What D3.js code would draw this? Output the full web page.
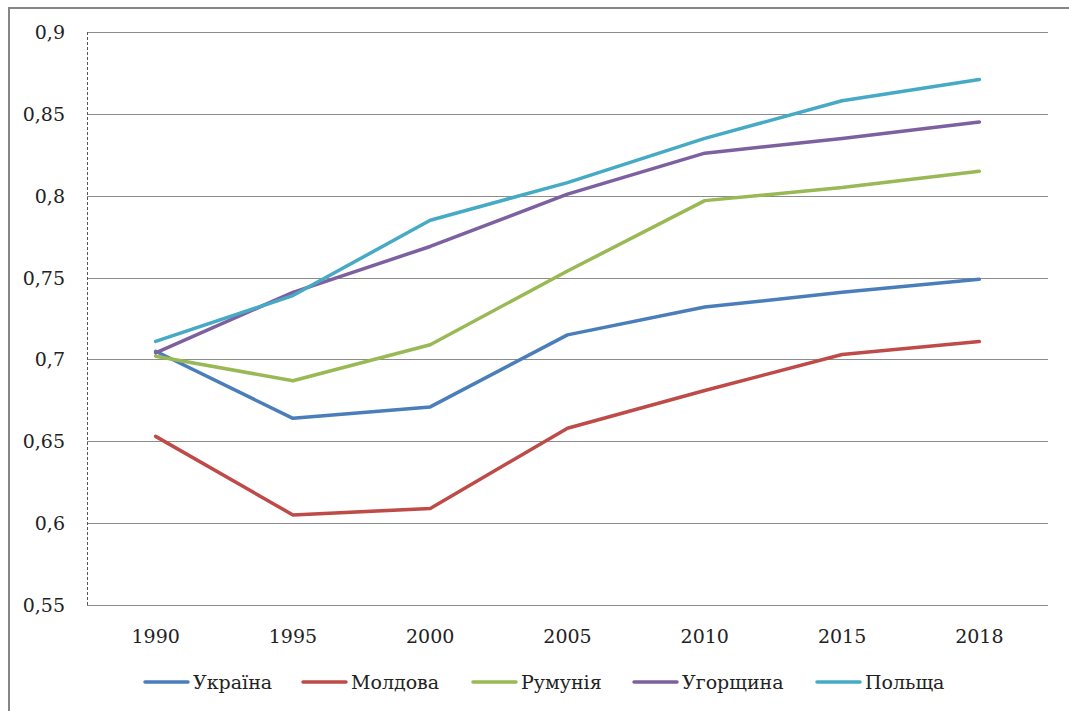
<html>
<head>
<style>
body{margin:0;background:#fff;}
svg text{font-family:"DejaVu Serif",serif;fill:#222;}
</style>
</head>
<body>
<script src="https://d3js.org/d3.v7.min.js"></script>
<script>
var width = 1069, height = 711;
let years = ["1990","1995","2000","2005","2010","2015","2018"]
let yTicks = [0.55,0.6,0.65,0.7,0.75,0.8,0.85,0.9]
let names = ["Україна","Молдова","Румунія","Угорщина","Польща"]
let colors = ["#4a7ebb","#be4b48","#98b954","#7d60a0","#46aac5"]
let ukraine = [0.705,0.664,0.671,0.715,0.732,0.741,0.749]
let moldova = [0.653,0.605,0.609,0.658,0.681,0.703,0.711]
let romania = [0.702,0.687,0.709,0.754,0.797,0.805,0.815]
let hungary = [0.704,0.741,0.769,0.801,0.826,0.835,0.845]
let poland = [0.711,0.739,0.785,0.808,0.835,0.858,0.871]
let series = [ukraine,moldova,romania,hungary,poland]
let legendX = [143,301,471,632,815]

var svg = d3.select("body").append("svg")
	.attr("width", width).attr("height", height)

svg.append("rect").attr("x",9).attr("y",8).attr("width",1070).attr("height",720)
	.attr("fill","none").attr("stroke","#868686").attr("stroke-width",2)

let pLeft = 87, pRight = 1048, pTop = 32, pBottom = 605
var x = d3.scalePoint().domain(years).range([pLeft,pRight]).padding(0.5)
var y = d3.scaleLinear().domain([0.55,0.9]).range([pBottom,pTop])

// grid
svg.append("g").selectAll("line").data(yTicks).enter().append("line")
	.attr("x1",pLeft).attr("x2",pRight)
	.attr("y1",d=>Math.round(y(d))+0.5).attr("y2",d=>Math.round(y(d))+0.5)
	.attr("stroke","#8c8c8c").attr("stroke-width",1)
svg.append("line").attr("x1",pLeft+0.5).attr("x2",pLeft+0.5).attr("y1",pTop).attr("y2",pBottom)
	.attr("stroke","#555").attr("stroke-dasharray","3,2")

// y labels
svg.append("g").selectAll("text").data(yTicks).enter().append("text")
	.attr("x",65).attr("y",d=>y(d)+7).attr("text-anchor","end")
	.style("font-size","19px")
	.text(d=>String(d).replace(".",","))
// x labels
svg.append("g").selectAll("text").data(years).enter().append("text")
	.attr("x",d=>x(d)).attr("y",643).attr("text-anchor","middle")
	.style("font-size","19px").text(d=>d)

var line = d3.line().x((d,i)=>x(years[i])).y(d=>y(d))
svg.append("g").selectAll("path").data(series).enter().append("path")
	.attr("d",line).attr("fill","none")
	.attr("stroke",(d,i)=>colors[i]).attr("stroke-width",3.5)
	.attr("stroke-linecap","round").attr("stroke-linejoin","round")

// legend
let lg = svg.append("g").selectAll("g").data(names).enter().append("g")
	.attr("transform",(d,i)=>`translate(${legendX[i]},682)`)
lg.append("line").attr("x1",2).attr("x2",45).attr("y1",0).attr("y2",0)
	.attr("stroke",(d,i)=>colors[i]).attr("stroke-width",3.5).attr("stroke-linecap","round")
lg.append("text").attr("x",50).attr("y",7).style("font-size","19px").text(d=>d)
</script>
</body>
</html>
